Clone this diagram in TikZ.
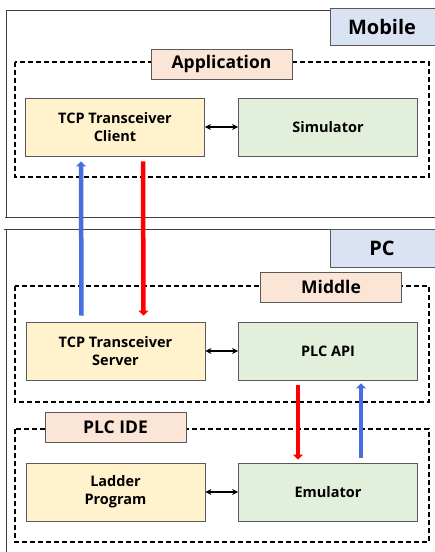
\documentclass[tikz,border=0pt]{standalone}
\usepackage{fontspec}
\setmainfont{Open Sans}
\usetikzlibrary{arrows.meta}

\definecolor{clientfill}{RGB}{255,242,204}
\definecolor{simfill}{RGB}{226,239,218}
\definecolor{layerfill}{RGB}{251,229,214}
\definecolor{sidefill}{RGB}{218,227,243}
\definecolor{upblue}{RGB}{70,110,225}

\begin{document}
\begin{tikzpicture}[x=1pt,y=-1pt,
	block/.style={draw=black!65,line width=0.8pt,minimum width=179pt,minimum height=58pt,inner sep=0pt,align=center,font=\bfseries\fontsize{14.5}{18}\selectfont},
	layer/.style={draw=black!65,line width=0.8pt,fill=layerfill,minimum width=141pt,minimum height=30pt,inner sep=0pt,font=\bfseries\fontsize{17.5}{20}\selectfont},
	side/.style={draw=black!65,line width=0.8pt,fill=sidefill,minimum width=110pt,inner sep=0pt,font=\bfseries\fontsize{20}{22}\selectfont},
	group/.style={dashed,dash pattern=on 5pt off 3pt,line width=1.1pt},
	link/.style={{Stealth[length=6pt,width=6pt]}-{Stealth[length=6pt,width=6pt]},line width=1.1pt},
	flow/.style={-{Triangle[length=5pt,width=10pt]},line width=4.5pt}]
	\useasboundingbox (0,0) rectangle (435,552);
	% frames
	\draw[black!75,line width=0.7pt] (6,217) -- (6,10) -- (330,10);
	\draw[black!75,line width=0.7pt] (5,217) -- (440,217);
	\draw[black!75,line width=0.7pt] (4,229) -- (440,229);
	\draw[black!75,line width=0.7pt] (6,229) -- (6,552);
	\node[side,minimum height=37pt] (mobile) at (385,26.5) {\hspace*{-6pt}Mobile};
	\node[side,minimum height=38pt] (pc) at (385,248) {\hspace*{-6pt}PC};
	% dashed groups
	\draw[group] (15,62) rectangle (429,177);
	\draw[group] (15,286) rectangle (429,402);
	\draw[group] (15,429) rectangle (429,542);
	\node[layer] (application) at (221.5,64) {Application};
	\node[layer] (middle) at (331,287) {Middle};
	\node[layer] (plcide) at (115.5,427) {PLC IDE};
	% blocks
	\node[block,fill=clientfill] (client) at (115,127) {TCP Transceiver\\Client};
	\node[block,fill=simfill] (simulator) at (328,127) {Simulator};
	\node[block,fill=clientfill] (server) at (115.5,351) {TCP Transceiver\\Server};
	\node[block,fill=simfill] (plcapi) at (328,351) {PLC API};
	\node[block,fill=clientfill] (ladder) at (115.5,492) {Ladder\\Program};
	\node[block,fill=simfill] (emulator) at (328,492) {Emulator};
	\draw[link] (client) -- (simulator);
	\draw[link] (server) -- (plcapi);
	\draw[link] (ladder) -- (emulator);
	% data flow
	\draw[flow,upblue] ([xshift=-34pt,yshift=6pt]server.north) -- ([xshift=-34pt,yshift=-5pt]client.south);
	\draw[flow,red] ([xshift=28pt,yshift=-5pt]client.south) -- ([xshift=28pt,yshift=6pt]server.north);
	\draw[flow,red] ([xshift=-30pt,yshift=-5pt]plcapi.south) -- ([xshift=-30pt,yshift=3pt]emulator.north);
	\draw[flow,upblue] ([xshift=33pt,yshift=5pt]emulator.north) -- ([xshift=33pt,yshift=-3pt]plcapi.south);
\end{tikzpicture}
\end{document}
